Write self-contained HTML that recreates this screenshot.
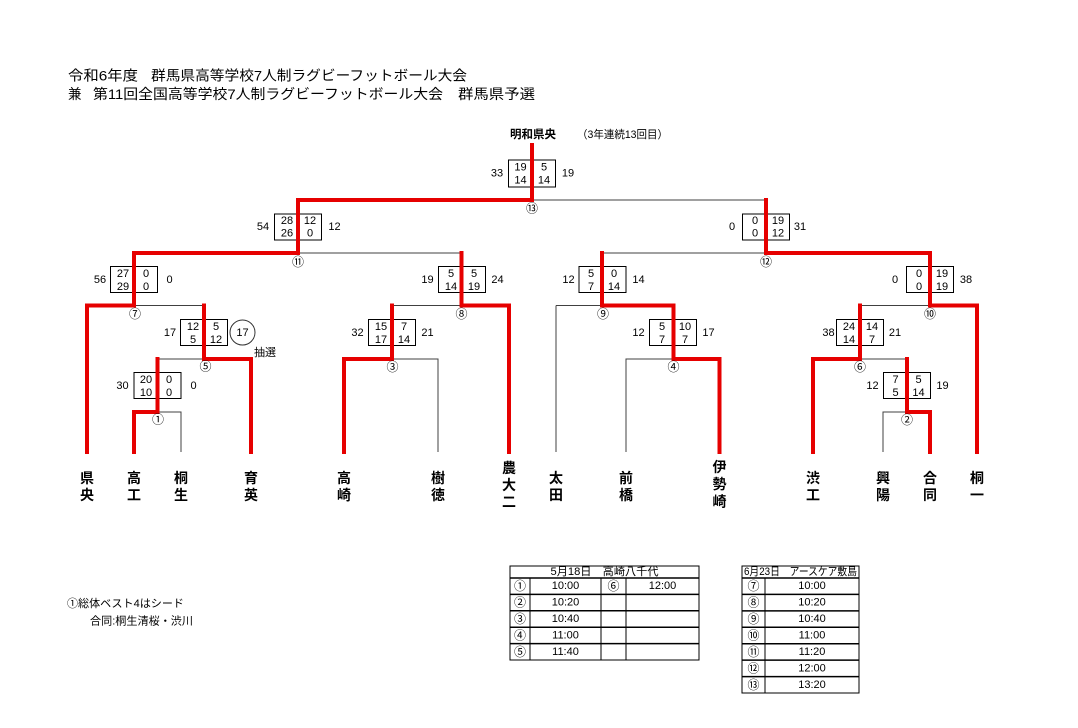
<!DOCTYPE html>
<html><head><meta charset="utf-8"><style>
html,body{margin:0;padding:0;background:#fff;}
svg{display:block;}
text{font-family:"Liberation Sans","Noto Sans CJK JP",sans-serif;fill:#000;dominant-baseline:central;}
.n{font-size:11px;text-anchor:middle;}
.c{font-size:12px;text-anchor:middle;}
.t{font-size:14px;font-weight:bold;text-anchor:middle;}
.g{stroke:#404040;stroke-width:1;fill:none;}
.r{stroke:#e60000;stroke-width:4;fill:none;stroke-linejoin:miter;stroke-linecap:square;}
.b{fill:#fff;stroke:#000;stroke-width:1;}
</style></head><body>
<svg width="1078" height="728" viewBox="0 0 1078 728" xmlns="http://www.w3.org/2000/svg">
<rect width="1078" height="728" fill="#fff"/>

<!-- Title -->
<text x="68" y="75.5" font-size="14" textLength="70" lengthAdjust="spacingAndGlyphs">令和6年度</text>
<text x="151" y="75.5" font-size="14" textLength="316" lengthAdjust="spacingAndGlyphs">群馬県高等学校7人制ラグビーフットボール大会</text>
<text x="68" y="94" font-size="14" textLength="13.5" lengthAdjust="spacingAndGlyphs">兼</text>
<text x="93" y="94" font-size="14" textLength="350" lengthAdjust="spacingAndGlyphs">第11回全国高等学校7人制ラグビーフットボール大会</text>
<text x="458" y="94" font-size="14" textLength="77" lengthAdjust="spacingAndGlyphs">群馬県予選</text>

<text x="510" y="135" font-size="11.5" font-weight="bold" textLength="46" lengthAdjust="spacingAndGlyphs">明和県央</text>
<text x="577" y="135" font-size="11" textLength="91" lengthAdjust="spacingAndGlyphs">（3年連続13回目）</text>

<!-- gray lines -->
<path class="g" d="M532 200H766"/>
<path class="g" d="M298 253H461.5"/>
<path class="g" d="M602 253H766"/>
<path class="g" d="M134 305.5H204"/>
<path class="g" d="M392 305.5H461.5"/>
<path class="g" d="M556 305.5H602M556 305.5V452"/>
<path class="g" d="M860 305.5H930"/>
<path class="g" d="M157.5 359H204"/>
<path class="g" d="M392 359H438V452"/>
<path class="g" d="M626 452V359H673"/>
<path class="g" d="M860 359H907"/>
<path class="g" d="M157.5 412H181V452"/>
<path class="g" d="M883 452V412H907"/>

<!-- score boxes -->
<g>
<rect class="b" x="508.5" y="160" width="47" height="27"/>
<rect class="b" x="274.5" y="214" width="47" height="26"/>
<rect class="b" x="742.5" y="214" width="47" height="26"/>
<rect class="b" x="110.5" y="266.5" width="47" height="26"/>
<rect class="b" x="438.5" y="266.5" width="47" height="26"/>
<rect class="b" x="579" y="266.5" width="47" height="26"/>
<rect class="b" x="906.5" y="266.5" width="47" height="26"/>
<rect class="b" x="180.5" y="319.5" width="47" height="26"/>
<rect class="b" x="368.5" y="319.5" width="47" height="26"/>
<rect class="b" x="649.5" y="319.5" width="47" height="26"/>
<rect class="b" x="836.5" y="319.5" width="47" height="26"/>
<rect class="b" x="134" y="372.5" width="47" height="26"/>
<rect class="b" x="883.5" y="372.5" width="47" height="26"/>
</g>

<!-- box numbers -->
<g>
<text class="n" x="520.5" y="167.5">19</text><text class="n" x="544" y="167.5">5</text><text class="n" x="520.5" y="180.5">14</text><text class="n" x="544" y="180.5">14</text>
<text class="n" x="287" y="221">28</text><text class="n" x="310" y="221">12</text><text class="n" x="287" y="233.5">26</text><text class="n" x="310" y="233.5">0</text>
<text class="n" x="755" y="221">0</text><text class="n" x="778" y="221">19</text><text class="n" x="755" y="233.5">0</text><text class="n" x="778" y="233.5">12</text>
<text class="n" x="123" y="274">27</text><text class="n" x="146" y="274">0</text><text class="n" x="123" y="287">29</text><text class="n" x="146" y="287">0</text>
<text class="n" x="451" y="274">5</text><text class="n" x="474" y="274">5</text><text class="n" x="451" y="287">14</text><text class="n" x="474" y="287">19</text>
<text class="n" x="591" y="274">5</text><text class="n" x="614" y="274">0</text><text class="n" x="591" y="287">7</text><text class="n" x="614" y="287">14</text>
<text class="n" x="919" y="274">0</text><text class="n" x="942" y="274">19</text><text class="n" x="919" y="287">0</text><text class="n" x="942" y="287">19</text>
<text class="n" x="193" y="327">12</text><text class="n" x="216" y="327">5</text><text class="n" x="193" y="340">5</text><text class="n" x="216" y="340">12</text>
<text class="n" x="381" y="327">15</text><text class="n" x="404" y="327">7</text><text class="n" x="381" y="340">17</text><text class="n" x="404" y="340">14</text>
<text class="n" x="662" y="327">5</text><text class="n" x="685" y="327">10</text><text class="n" x="662" y="340">7</text><text class="n" x="685" y="340">7</text>
<text class="n" x="849" y="327">24</text><text class="n" x="872" y="327">14</text><text class="n" x="849" y="340">14</text><text class="n" x="872" y="340">7</text>
<text class="n" x="146" y="380">20</text><text class="n" x="169" y="380">0</text><text class="n" x="146" y="393">10</text><text class="n" x="169" y="393">0</text>
<text class="n" x="895.5" y="380">7</text><text class="n" x="918.5" y="380">5</text><text class="n" x="895.5" y="393">5</text><text class="n" x="918.5" y="393">14</text>
</g>

<!-- side totals -->
<text class="n" x="497" y="173.5">33</text><text class="n" x="568" y="173.5">19</text>
<text class="n" x="263" y="227">54</text><text class="n" x="334.5" y="227">12</text>
<text class="n" x="732" y="227">0</text><text class="n" x="800" y="227">31</text>
<text class="n" x="100" y="280">56</text><text class="n" x="169.5" y="280">0</text>
<text class="n" x="427.5" y="280">19</text><text class="n" x="497.5" y="280">24</text>
<text class="n" x="568.5" y="280">12</text><text class="n" x="638.5" y="280">14</text>
<text class="n" x="895" y="280">0</text><text class="n" x="966" y="280">38</text>
<text class="n" x="170" y="333">17</text>
<circle cx="242.5" cy="332.5" r="12.5" fill="none" stroke="#333" stroke-width="1"/>
<text class="n" x="242.5" y="333">17</text>
<text x="265" y="353" font-size="11" text-anchor="middle">抽選</text>
<text class="n" x="357.5" y="333">32</text><text class="n" x="427.5" y="333">21</text>
<text class="n" x="638.5" y="333">12</text><text class="n" x="708.5" y="333">17</text>
<text class="n" x="828.5" y="333">38</text><text class="n" x="895" y="333">21</text>
<text class="n" x="122.5" y="386">30</text><text class="n" x="193.5" y="386">0</text>
<text class="n" x="872.5" y="386">12</text><text class="n" x="942.5" y="386">19</text>

<!-- red lines -->
<path class="r" d="M532 145V200H298V253H134V305.5H87V452"/>
<path class="r" d="M204 305.5V359H251V452"/>
<path class="r" d="M157.5 359V412H134V452"/>
<path class="r" d="M461.5 253V305.5H509V452"/>
<path class="r" d="M392 305.5V359H344V452"/>
<path class="r" d="M766 200V253H930V305.5H977V452"/>
<path class="r" d="M602 253V305.5H673.5V359H719.5V452"/>
<path class="r" d="M860 305.5V359H813V452"/>
<path class="r" d="M907 359V412H930V452"/>

<!-- match labels -->
<text class="c" x="532" y="208.5">⑬</text>
<text class="c" x="298" y="262">⑪</text>
<text class="c" x="766" y="262">⑫</text>
<text class="c" x="135" y="314">⑦</text>
<text class="c" x="461.5" y="314">⑧</text>
<text class="c" x="603" y="314">⑨</text>
<text class="c" x="930" y="314">⑩</text>
<text class="c" x="205.5" y="366.5">⑤</text>
<text class="c" x="392.5" y="367">③</text>
<text class="c" x="673.5" y="367">④</text>
<text class="c" x="860" y="367">⑥</text>
<text class="c" x="158" y="419.5">①</text>
<text class="c" x="907" y="420">②</text>

<!-- team names -->
<text class="t" x="87" y="478">県</text><text class="t" x="87" y="495">央</text>
<text class="t" x="134" y="478">高</text><text class="t" x="134" y="495">工</text>
<text class="t" x="181" y="478">桐</text><text class="t" x="181" y="495">生</text>
<text class="t" x="251" y="478">育</text><text class="t" x="251" y="495">英</text>
<text class="t" x="344" y="478">高</text><text class="t" x="344" y="495">崎</text>
<text class="t" x="438" y="478">樹</text><text class="t" x="438" y="495">徳</text>
<text class="t" x="509" y="468">農</text><text class="t" x="509" y="485">大</text><text class="t" x="509" y="502">二</text>
<text class="t" x="556" y="478">太</text><text class="t" x="556" y="495">田</text>
<text class="t" x="626" y="478">前</text><text class="t" x="626" y="495">橋</text>
<text class="t" x="719.5" y="467">伊</text><text class="t" x="719.5" y="484">勢</text><text class="t" x="719.5" y="501.5">崎</text>
<text class="t" x="813" y="478">渋</text><text class="t" x="813" y="495">工</text>
<text class="t" x="883" y="478">興</text><text class="t" x="883" y="495">陽</text>
<text class="t" x="930" y="478">合</text><text class="t" x="930" y="495">同</text>
<text class="t" x="977" y="478">桐</text><text class="t" x="977" y="495">一</text>

<!-- notes -->
<text x="67" y="604" font-size="11" textLength="117" lengthAdjust="spacingAndGlyphs">①総体ベスト4はシード</text>
<text x="90" y="621.5" font-size="11" textLength="103" lengthAdjust="spacingAndGlyphs">合同:桐生清桜・渋川</text>

<!-- table 1 -->
<g stroke="#000" fill="none">
<rect x="510" y="566" width="189" height="94" stroke-width="1"/>
<path d="M510 578H699M510 594.4H699M510 610.8H699M510 627.2H699M510 643.6H699" stroke-width="1.5"/>
<path d="M530 578V660M601 578V660M626 578V660" stroke-width="1"/>
</g>
<text x="604.5" y="572" font-size="11" text-anchor="middle" textLength="108" lengthAdjust="spacingAndGlyphs">5月18日　高崎八千代</text>
<text class="c" x="520" y="586">①</text><text class="n" x="565.5" y="586">10:00</text>
<text class="c" x="613.5" y="586">⑥</text><text class="n" x="662.5" y="586">12:00</text>
<text class="c" x="520" y="602.5">②</text><text class="n" x="565.5" y="602.5">10:20</text>
<text class="c" x="520" y="619">③</text><text class="n" x="565.5" y="619">10:40</text>
<text class="c" x="520" y="635.5">④</text><text class="n" x="565.5" y="635.5">11:00</text>
<text class="c" x="520" y="652">⑤</text><text class="n" x="565.5" y="652">11:40</text>

<!-- table 2 -->
<g stroke="#000" fill="none">
<rect x="742" y="566" width="117" height="127" stroke-width="1"/>
<path d="M742 578H859M742 594.4H859M742 610.9H859M742 627.3H859M742 643.7H859M742 660.1H859M742 676.6H859" stroke-width="1.5"/>
<path d="M765 578V693" stroke-width="1"/>
</g>
<text x="744" y="572" font-size="11" textLength="113" lengthAdjust="spacingAndGlyphs">6月23日　アースケア敷島</text>
<text class="c" x="753.5" y="586">⑦</text><text class="n" x="812" y="586">10:00</text>
<text class="c" x="753.5" y="602.5">⑧</text><text class="n" x="812" y="602.5">10:20</text>
<text class="c" x="753.5" y="619">⑨</text><text class="n" x="812" y="619">10:40</text>
<text class="c" x="753.5" y="635.5">⑩</text><text class="n" x="812" y="635.5">11:00</text>
<text class="c" x="753.5" y="652">⑪</text><text class="n" x="812" y="652">11:20</text>
<text class="c" x="753.5" y="668.5">⑫</text><text class="n" x="812" y="668.5">12:00</text>
<text class="c" x="753.5" y="685">⑬</text><text class="n" x="812" y="685">13:20</text>
</svg>
</body></html>
